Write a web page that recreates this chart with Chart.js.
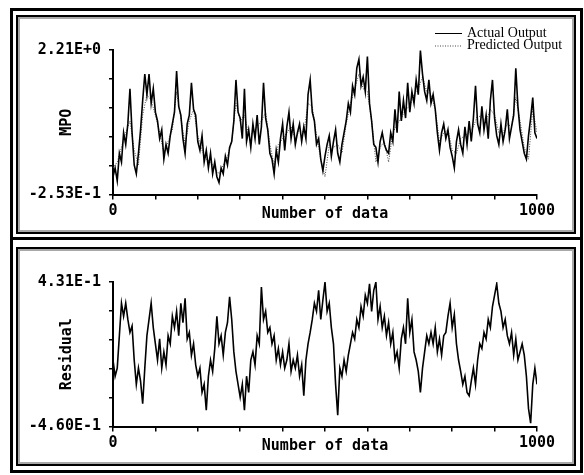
<!DOCTYPE html>
<html>
<head>
<meta charset="utf-8">
<script src="https://cdn.jsdelivr.net/npm/chart.js@4"></script>
<style>
  body { margin: 0; background: #fff; width: 584px; height: 475px; position: relative; overflow: hidden; }
  .outer { position: absolute; left: 10px; width: 567px; border: 3px solid #000; box-sizing: content-box; }
  .panel { position: absolute; left: 16px; width: 556px; height: 215px; border: 2px solid #000;
           box-shadow: inset 0 0 0 2px #a8a8a8; background: #fff; }
  canvas { position: absolute; left: 20px; }
</style>
</head>
<body>
<div class="outer" style="top:8px;height:226px"></div>
<div class="outer" style="top:237px;height:230px"></div>
<div class="panel" style="top:15px"></div>
<div class="panel" style="top:247px"></div>
<canvas id="mpoChart" width="552" height="214" style="top:18px"></canvas>
<canvas id="residualChart" width="552" height="214" style="top:250px"></canvas>
<script>
// sampled every 5th data point (0..1000)
const SAMPLE_STEP = 5;
const PRED_STEP = 10;

const mpoActual = [
  0.05, 0.2, -0.02, 0.45, 0.3, 0.8, 0.6, 0.95, 1.55, 0.8,
  0.25, 0.1, 0.45, 0.85, 1.35, 1.8, 1.45, 1.8, 1.3, 1.55,
  1.15, 1.0, 0.7, 0.85, 0.35, 0.6, 0.45, 0.75, 0.95, 1.15,
  1.85, 1.25, 1.1, 0.7, 0.45, 0.95, 1.1, 1.65, 1.2, 1.1,
  0.65, 0.5, 0.75, 0.3, 0.5, 0.2, 0.45, 0.1, 0.3, 0.05,
  -0.05, 0.2, 0.1, 0.4, 0.25, 0.55, 0.65, 1.0, 1.7, 1.15,
  1.05, 0.7, 1.55, 0.65, 0.85, 0.55, 0.95, 0.7, 1.1, 0.6,
  0.9, 1.65, 1.05, 0.85, 0.45, 0.35, 0.1, 0.5, 0.3, 0.7,
  0.95, 0.5, 0.9, 1.15, 0.7, 0.95, 0.6, 0.8, 0.95, 0.65,
  0.9, 0.7, 1.45, 1.7, 1.15, 1.0, 0.6, 0.7, 0.35, 0.15,
  0.4, 0.6, 0.75, 0.4, 0.65, 0.85, 0.45, 0.3, 0.6, 0.8,
  1.0, 1.3, 1.15, 1.6, 1.45, 1.9, 2.05, 1.6, 1.75, 1.5,
  2.1, 1.3, 1.0, 0.6, 0.55, 0.3, 0.65, 0.8, 0.6, 0.5,
  0.45, 0.8, 0.65, 1.2, 0.8, 1.5, 1.0, 1.35, 1.05, 1.65,
  1.15, 1.5, 1.3, 1.7, 1.45, 2.2, 1.8, 1.5, 1.35, 1.7,
  1.3, 1.45, 1.2, 0.8, 0.5, 0.8, 0.95, 0.7, 0.85, 0.55,
  0.4, 0.2, 0.65, 0.85, 0.6, 0.45, 0.9, 0.6, 1.0, 0.65,
  1.05, 1.6, 0.95, 0.8, 1.25, 0.85, 1.1, 0.7, 1.35, 1.7,
  1.05, 0.75, 0.6, 0.95, 0.65, 0.85, 1.2, 0.7, 0.9, 1.1,
  1.9, 1.25, 0.85, 0.65, 0.45, 0.35, 0.75, 1.05, 1.4, 0.8,
  0.7
];

// sampled every 10th data point
const mpoPredicted = [
  0.2, 0.3, 0.55, 0.8, 1.0, 0.5, 0.25, 1.1, 1.45, 1.35,
  1.1, 0.8, 0.45, 0.65, 0.85, 1.5, 1.05, 0.6, 1.0, 1.2,
  0.75, 0.5, 0.35, 0.3, 0.2, 0.1, 0.25, 0.4, 0.65, 1.3,
  1.0, 1.1, 0.75, 0.8, 0.9, 1.0, 1.15, 0.6, 0.25, 0.6,
  0.7, 0.8, 0.9, 0.7, 0.85, 0.8, 1.3, 1.25, 0.75, 0.35,
  0.05, 0.6, 0.55, 0.6, 0.45, 0.95, 1.3, 1.55, 1.8, 1.55,
  1.5, 1.0, 0.3, 0.55, 0.65, 0.3, 0.8, 0.95, 1.05, 1.2,
  1.25, 1.45, 1.55, 1.75, 1.5, 1.45, 1.2, 0.65, 0.8, 0.85,
  0.5, 0.45, 0.7, 0.75, 0.8, 0.9, 1.1, 1.05, 1.0, 1.2,
  1.1, 0.8, 0.8, 0.95, 0.9, 1.4, 1.0, 0.55, 0.35, 1.2,
  0.8
];

const residual = [
  -0.05, -0.15, -0.1, 0.1, 0.3, 0.22, 0.3, 0.2, 0.12, 0.16,
  -0.05, -0.2, -0.1, -0.18, -0.32, -0.1, 0.1, 0.2, 0.3, 0.15,
  0.05, -0.05, 0.08, -0.1, 0.0, -0.08, 0.1, 0.05, 0.22, 0.15,
  0.25, 0.1, 0.3, 0.18, 0.33, 0.08, 0.12, -0.02, 0.05, -0.08,
  -0.15, -0.1, -0.25, -0.2, -0.36, -0.15, -0.05, -0.12, 0.02, 0.22,
  0.05, 0.1, -0.02, 0.12, 0.18, 0.34, 0.2, 0.0, -0.12, -0.2,
  -0.28, -0.2, -0.36, -0.15, -0.25, -0.05, 0.0, -0.08, 0.1, 0.05,
  0.4, 0.2, 0.25, 0.12, 0.15, 0.05, 0.1, -0.05, 0.02, -0.08,
  0.0, -0.1, -0.05, 0.05, -0.12, -0.05, -0.1, -0.02, -0.15, -0.08,
  -0.27, -0.05, 0.05, 0.12, 0.2, 0.3, 0.25, 0.38, 0.2, 0.32,
  0.43, 0.25, 0.3, 0.15, 0.05, -0.2, -0.39, -0.1, -0.15, -0.05,
  -0.12, -0.02, 0.05, 0.12, 0.08, 0.2, 0.15, 0.28, 0.22, 0.35,
  0.3, 0.42, 0.25, 0.38, 0.43, 0.2, 0.28, 0.15, 0.22, 0.1,
  0.18, 0.05, 0.12, -0.05, 0.0, -0.1, 0.08, 0.15, 0.05, 0.33,
  0.12, 0.2, 0.0, -0.05, -0.12, -0.25, -0.1, 0.0, 0.1, 0.05,
  0.12, 0.05, 0.15, 0.0, 0.08, -0.02, 0.1, 0.12, 0.22, 0.3,
  0.15, 0.23, 0.05, -0.05, -0.12, -0.2, -0.15, -0.25, -0.27, -0.18,
  -0.1, -0.2, -0.05, 0.05, 0.02, 0.12, 0.08, 0.2, 0.15, 0.28,
  0.35, 0.42, 0.3, 0.25, 0.15, 0.2, 0.1, 0.05, 0.12, -0.02,
  0.08, -0.05, 0.0, 0.05, -0.02, -0.15, -0.35, -0.44, -0.2, -0.1,
  -0.2
];

const xTickLabels = ['0', '', '', '', '', '', '', '', '', '', '1000'];
const mpoTickLabels = ['-2.53E-1', '', '', '', '', '2.21E+0'];
const residualTickLabels = ['-4.60E-1', '', '', '', '', '4.31E-1'];
const mpoRange = [-0.253, 2.21];
const residualRange = [-0.460, 0.431];

const monoFont = { family: "'DejaVu Sans Mono', monospace", size: 15, weight: 'bold' };

function toPoints(values, step) {
    return values.map((v, i) => ({ x: i * step, y: v }));
}

// legend with line samples, drawn top right like the original
const lineLegend = {
    id: 'lineLegend',
    afterDraw(chart, args, opts) {
        const ctx = chart.ctx;
        ctx.save();
        chart.data.datasets.forEach((ds, i) => {
            const y = opts.y + i * opts.rowHeight;
            ctx.strokeStyle = ds.borderColor;
            ctx.lineWidth = 1;
            ctx.setLineDash(ds.borderDash || []);
            ctx.beginPath();
            ctx.moveTo(opts.x, y + 0.5);
            ctx.lineTo(opts.x + opts.lineLen, y + 0.5);
            ctx.stroke();
            ctx.setLineDash([]);
            ctx.fillStyle = '#000';
            ctx.font = opts.font;
            ctx.textBaseline = 'middle';
            ctx.fillText(ds.label, opts.x + opts.lineLen + 5, y);
        });
        ctx.restore();
    }
};

function makeOptions(range, yLabels, yTitle, legendOpts) {
    return {
        responsive: false,
        animation: false,
        devicePixelRatio: 1,
        layout: { padding: { left: 0, right: 35, top: 32, bottom: 0 } },
        plugins: {
            legend: { display: false },
            tooltip: { enabled: false },
            lineLegend: legendOpts
        },
        scales: {
            x: {
                type: 'linear', min: 0, max: 1000,
                ticks: { count: 11, autoSkip: false, maxRotation: 0, padding: 3, color: '#000', font: monoFont,
                         callback: (v, i) => xTickLabels[i] },
                grid: { drawOnChartArea: false, tickLength: 5, color: '#000', lineWidth: 1.5 },
                border: { color: '#000', width: 2 },
                title: { display: true, text: 'Number of data', color: '#000', font: monoFont, padding: { bottom: 9 } },
                afterFit: s => { s.height = 37.5; }
            },
            y: {
                type: 'linear', min: range[0], max: range[1],
                ticks: { count: 6, autoSkip: false, padding: 8, color: '#000', font: monoFont,
                         callback: (v, i) => yLabels[i] },
                grid: { drawOnChartArea: false, tickLength: 4, color: '#000', lineWidth: 1.5 },
                border: { color: '#000', width: 2 },
                title: { display: true, text: yTitle, color: '#000', font: monoFont, padding: { top: 38 } },
                afterFit: s => { s.width = 93; }
            }
        }
    };
}

new Chart(document.getElementById('mpoChart'), {
    type: 'line',
    data: {
        datasets: [
            { label: 'Actual Output', data: toPoints(mpoActual, SAMPLE_STEP), borderColor: '#000',
              borderWidth: 1.6, pointRadius: 0, tension: 0 },
            { label: 'Predicted Output', data: toPoints(mpoPredicted, PRED_STEP), borderColor: '#444',
              borderDash: [1, 1.5], borderWidth: 1, pointRadius: 0, tension: 0 }
        ]
    },
    options: makeOptions(mpoRange, mpoTickLabels, 'MPO',
        { x: 415, y: 15, rowHeight: 12.5, lineLen: 27, font: "14px 'Liberation Serif', serif" }),
    plugins: [lineLegend]
});

new Chart(document.getElementById('residualChart'), {
    type: 'line',
    data: {
        datasets: [
            { label: 'Residual', data: toPoints(residual, SAMPLE_STEP), borderColor: '#000',
              borderWidth: 1.6, pointRadius: 0, tension: 0 }
        ]
    },
    options: makeOptions(residualRange, residualTickLabels, 'Residual', {})
});
</script>
</body>
</html>
